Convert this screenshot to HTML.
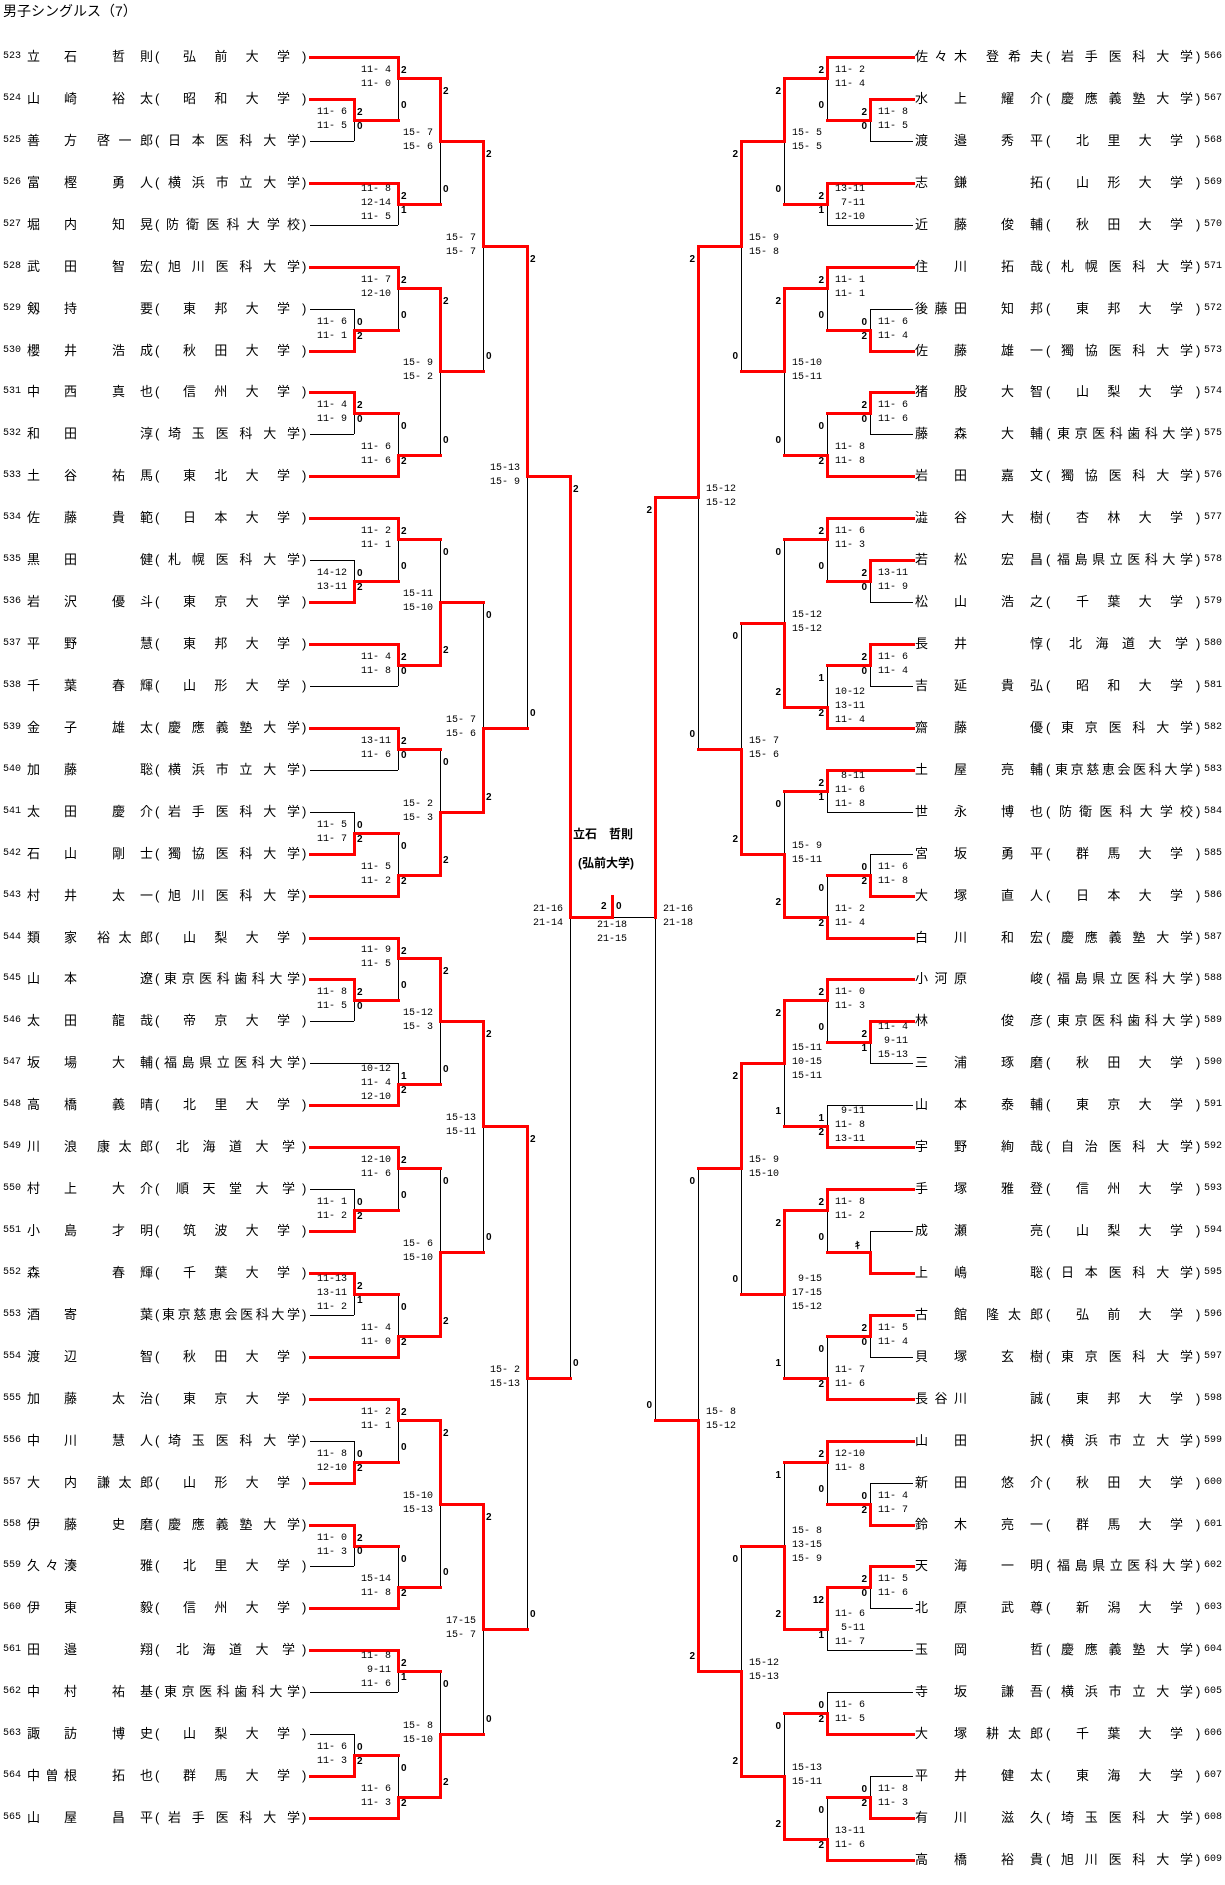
<!DOCTYPE html>
<html><head><meta charset="utf-8">
<style>
*{margin:0;padding:0;box-sizing:border-box}
html,body{width:1225px;height:1885px;background:#fff;overflow:hidden}
body{position:relative;font-family:"Liberation Sans","Noto Sans CJK JP",sans-serif;color:#000}
#t{position:absolute;left:3px;top:2px;font-size:14px;line-height:18px}
svg{position:absolute;left:0;top:0}
.nl,.nr{position:absolute;left:0;width:1225px;height:16px;top:calc(57px + var(--r)*41.93px - 8px);font-size:13px;line-height:16px}
.nl span,.nr span{position:absolute;top:0;white-space:nowrap;text-align:justify;text-align-last:justify}
.nl::before,.nr::before{content:"(";position:absolute;top:0}
.nl::after,.nr::after{content:")";position:absolute;top:0}
.nl::before{left:155px}.nl::after{left:302px}
.nr::before{left:1046px}.nr::after{left:1196px}
span.n{font:10px/16px "Liberation Mono",monospace;text-align:left;text-align-last:left}
.nl .n{left:3px}.nr .n{left:1204px}
.nl .f{left:27px;width:50px}.nr .f{left:915px;width:52px}
.nl .f1{left:27px}.nr .f1{left:915px}
.nl .g1{left:140px}.nl .g2{left:112px;width:41px}.nl .g3{left:97px;width:56px}
.nr .g1{left:1030px}.nr .g2{left:1001px;width:42px}.nr .g3{left:986px;width:57px}
.nl .u4{left:183px;width:107px}.nl .u5{left:176px;width:119px}.nl .u6{left:168px;width:132px}.nl .u7{left:166px;width:134px}.nl .u8{left:164px;width:136px}.nl .u9{left:162px;width:138px}
.nr .u4{left:1076px;width:107px}.nr .u5{left:1069px;width:119px}.nr .u6{left:1061px;width:132px}.nr .u7{left:1059px;width:134px}.nr .u8{left:1057px;width:136px}.nr .u9{left:1055px;width:138px}
p{position:absolute;font:10px/14px "Liberation Mono",monospace;white-space:pre;top:calc(57px + var(--r)*41.93px - 14px)}
p.t{top:calc(57px + var(--r)*41.93px - 21px)}
p.sl{right:calc(1225px - var(--x)*1px + 7px);text-align:right}
p.sr{left:calc(var(--x)*1px + 8px);text-align:left}
b{position:absolute;font:bold 10px/14px "Liberation Sans",sans-serif;top:calc(57px + var(--r)*41.93px + 7px)}
b.u{top:calc(57px + var(--r)*41.93px - 21px)}
b.cl{left:calc(var(--x)*1px + 3px)}
b.cr{right:calc(1225px - var(--x)*1px + 3px)}
.w{position:absolute;font-weight:bold;font-size:12px;line-height:16px}
</style></head><body>
<div id="t">男子シングルス（7）</div>
<svg id="sv" width="1225" height="1885"></svg>

<div class="nl" style="--r:0"><span class="n">523</span><span class="f">立石</span><span class="g2">哲則</span><span class="u4">弘前大学</span></div>
<div class="nl" style="--r:1"><span class="n">524</span><span class="f">山崎</span><span class="g2">裕太</span><span class="u4">昭和大学</span></div>
<div class="nl" style="--r:2"><span class="n">525</span><span class="f">善方</span><span class="g3">啓一郎</span><span class="u6">日本医科大学</span></div>
<div class="nl" style="--r:3"><span class="n">526</span><span class="f">富樫</span><span class="g2">勇人</span><span class="u6">横浜市立大学</span></div>
<div class="nl" style="--r:4"><span class="n">527</span><span class="f">堀内</span><span class="g2">知晃</span><span class="u7">防衛医科大学校</span></div>
<div class="nl" style="--r:5"><span class="n">528</span><span class="f">武田</span><span class="g2">智宏</span><span class="u6">旭川医科大学</span></div>
<div class="nl" style="--r:6"><span class="n">529</span><span class="f">剱持</span><span class="g1">要</span><span class="u4">東邦大学</span></div>
<div class="nl" style="--r:7"><span class="n">530</span><span class="f">櫻井</span><span class="g2">浩成</span><span class="u4">秋田大学</span></div>
<div class="nl" style="--r:8"><span class="n">531</span><span class="f">中西</span><span class="g2">真也</span><span class="u4">信州大学</span></div>
<div class="nl" style="--r:9"><span class="n">532</span><span class="f">和田</span><span class="g1">淳</span><span class="u6">埼玉医科大学</span></div>
<div class="nl" style="--r:10"><span class="n">533</span><span class="f">土谷</span><span class="g2">祐馬</span><span class="u4">東北大学</span></div>
<div class="nl" style="--r:11"><span class="n">534</span><span class="f">佐藤</span><span class="g2">貴範</span><span class="u4">日本大学</span></div>
<div class="nl" style="--r:12"><span class="n">535</span><span class="f">黒田</span><span class="g1">健</span><span class="u6">札幌医科大学</span></div>
<div class="nl" style="--r:13"><span class="n">536</span><span class="f">岩沢</span><span class="g2">優斗</span><span class="u4">東京大学</span></div>
<div class="nl" style="--r:14"><span class="n">537</span><span class="f">平野</span><span class="g1">慧</span><span class="u4">東邦大学</span></div>
<div class="nl" style="--r:15"><span class="n">538</span><span class="f">千葉</span><span class="g2">春輝</span><span class="u4">山形大学</span></div>
<div class="nl" style="--r:16"><span class="n">539</span><span class="f">金子</span><span class="g2">雄太</span><span class="u6">慶應義塾大学</span></div>
<div class="nl" style="--r:17"><span class="n">540</span><span class="f">加藤</span><span class="g1">聡</span><span class="u6">横浜市立大学</span></div>
<div class="nl" style="--r:18"><span class="n">541</span><span class="f">太田</span><span class="g2">慶介</span><span class="u6">岩手医科大学</span></div>
<div class="nl" style="--r:19"><span class="n">542</span><span class="f">石山</span><span class="g2">剛士</span><span class="u6">獨協医科大学</span></div>
<div class="nl" style="--r:20"><span class="n">543</span><span class="f">村井</span><span class="g2">太一</span><span class="u6">旭川医科大学</span></div>
<div class="nl" style="--r:21"><span class="n">544</span><span class="f">類家</span><span class="g3">裕太郎</span><span class="u4">山梨大学</span></div>
<div class="nl" style="--r:22"><span class="n">545</span><span class="f">山本</span><span class="g1">遼</span><span class="u8">東京医科歯科大学</span></div>
<div class="nl" style="--r:23"><span class="n">546</span><span class="f">太田</span><span class="g2">龍哉</span><span class="u4">帝京大学</span></div>
<div class="nl" style="--r:24"><span class="n">547</span><span class="f">坂場</span><span class="g2">大輔</span><span class="u8">福島県立医科大学</span></div>
<div class="nl" style="--r:25"><span class="n">548</span><span class="f">高橋</span><span class="g2">義晴</span><span class="u4">北里大学</span></div>
<div class="nl" style="--r:26"><span class="n">549</span><span class="f">川浪</span><span class="g3">康太郎</span><span class="u5">北海道大学</span></div>
<div class="nl" style="--r:27"><span class="n">550</span><span class="f">村上</span><span class="g2">大介</span><span class="u5">順天堂大学</span></div>
<div class="nl" style="--r:28"><span class="n">551</span><span class="f">小島</span><span class="g2">才明</span><span class="u4">筑波大学</span></div>
<div class="nl" style="--r:29"><span class="n">552</span><span class="f1">森</span><span class="g2">春輝</span><span class="u4">千葉大学</span></div>
<div class="nl" style="--r:30"><span class="n">553</span><span class="f">酒寄</span><span class="g1">葉</span><span class="u9">東京慈恵会医科大学</span></div>
<div class="nl" style="--r:31"><span class="n">554</span><span class="f">渡辺</span><span class="g1">智</span><span class="u4">秋田大学</span></div>
<div class="nl" style="--r:32"><span class="n">555</span><span class="f">加藤</span><span class="g2">太治</span><span class="u4">東京大学</span></div>
<div class="nl" style="--r:33"><span class="n">556</span><span class="f">中川</span><span class="g2">慧人</span><span class="u6">埼玉医科大学</span></div>
<div class="nl" style="--r:34"><span class="n">557</span><span class="f">大内</span><span class="g3">謙太郎</span><span class="u4">山形大学</span></div>
<div class="nl" style="--r:35"><span class="n">558</span><span class="f">伊藤</span><span class="g2">史磨</span><span class="u6">慶應義塾大学</span></div>
<div class="nl" style="--r:36"><span class="n">559</span><span class="f">久々湊</span><span class="g1">雅</span><span class="u4">北里大学</span></div>
<div class="nl" style="--r:37"><span class="n">560</span><span class="f">伊東</span><span class="g1">毅</span><span class="u4">信州大学</span></div>
<div class="nl" style="--r:38"><span class="n">561</span><span class="f">田邉</span><span class="g1">翔</span><span class="u5">北海道大学</span></div>
<div class="nl" style="--r:39"><span class="n">562</span><span class="f">中村</span><span class="g2">祐基</span><span class="u8">東京医科歯科大学</span></div>
<div class="nl" style="--r:40"><span class="n">563</span><span class="f">諏訪</span><span class="g2">博史</span><span class="u4">山梨大学</span></div>
<div class="nl" style="--r:41"><span class="n">564</span><span class="f">中曽根</span><span class="g2">拓也</span><span class="u4">群馬大学</span></div>
<div class="nl" style="--r:42"><span class="n">565</span><span class="f">山屋</span><span class="g2">昌平</span><span class="u6">岩手医科大学</span></div>

<div class="nr" style="--r:0"><span class="f">佐々木</span><span class="g3">登希夫</span><span class="u6">岩手医科大学</span><span class="n">566</span></div>
<div class="nr" style="--r:1"><span class="f">水上</span><span class="g2">耀介</span><span class="u6">慶應義塾大学</span><span class="n">567</span></div>
<div class="nr" style="--r:2"><span class="f">渡邉</span><span class="g2">秀平</span><span class="u4">北里大学</span><span class="n">568</span></div>
<div class="nr" style="--r:3"><span class="f">志鎌</span><span class="g1">拓</span><span class="u4">山形大学</span><span class="n">569</span></div>
<div class="nr" style="--r:4"><span class="f">近藤</span><span class="g2">俊輔</span><span class="u4">秋田大学</span><span class="n">570</span></div>
<div class="nr" style="--r:5"><span class="f">住川</span><span class="g2">拓哉</span><span class="u6">札幌医科大学</span><span class="n">571</span></div>
<div class="nr" style="--r:6"><span class="f">後藤田</span><span class="g2">知邦</span><span class="u4">東邦大学</span><span class="n">572</span></div>
<div class="nr" style="--r:7"><span class="f">佐藤</span><span class="g2">雄一</span><span class="u6">獨協医科大学</span><span class="n">573</span></div>
<div class="nr" style="--r:8"><span class="f">猪股</span><span class="g2">大智</span><span class="u4">山梨大学</span><span class="n">574</span></div>
<div class="nr" style="--r:9"><span class="f">藤森</span><span class="g2">大輔</span><span class="u8">東京医科歯科大学</span><span class="n">575</span></div>
<div class="nr" style="--r:10"><span class="f">岩田</span><span class="g2">嘉文</span><span class="u6">獨協医科大学</span><span class="n">576</span></div>
<div class="nr" style="--r:11"><span class="f">澁谷</span><span class="g2">大樹</span><span class="u4">杏林大学</span><span class="n">577</span></div>
<div class="nr" style="--r:12"><span class="f">若松</span><span class="g2">宏昌</span><span class="u8">福島県立医科大学</span><span class="n">578</span></div>
<div class="nr" style="--r:13"><span class="f">松山</span><span class="g2">浩之</span><span class="u4">千葉大学</span><span class="n">579</span></div>
<div class="nr" style="--r:14"><span class="f">長井</span><span class="g1">惇</span><span class="u5">北海道大学</span><span class="n">580</span></div>
<div class="nr" style="--r:15"><span class="f">吉延</span><span class="g2">貴弘</span><span class="u4">昭和大学</span><span class="n">581</span></div>
<div class="nr" style="--r:16"><span class="f">齋藤</span><span class="g1">優</span><span class="u6">東京医科大学</span><span class="n">582</span></div>
<div class="nr" style="--r:17"><span class="f">土屋</span><span class="g2">亮輔</span><span class="u9">東京慈恵会医科大学</span><span class="n">583</span></div>
<div class="nr" style="--r:18"><span class="f">世永</span><span class="g2">博也</span><span class="u7">防衛医科大学校</span><span class="n">584</span></div>
<div class="nr" style="--r:19"><span class="f">宮坂</span><span class="g2">勇平</span><span class="u4">群馬大学</span><span class="n">585</span></div>
<div class="nr" style="--r:20"><span class="f">大塚</span><span class="g2">直人</span><span class="u4">日本大学</span><span class="n">586</span></div>
<div class="nr" style="--r:21"><span class="f">白川</span><span class="g2">和宏</span><span class="u6">慶應義塾大学</span><span class="n">587</span></div>
<div class="nr" style="--r:22"><span class="f">小河原</span><span class="g1">峻</span><span class="u8">福島県立医科大学</span><span class="n">588</span></div>
<div class="nr" style="--r:23"><span class="f1">林</span><span class="g2">俊彦</span><span class="u8">東京医科歯科大学</span><span class="n">589</span></div>
<div class="nr" style="--r:24"><span class="f">三浦</span><span class="g2">琢磨</span><span class="u4">秋田大学</span><span class="n">590</span></div>
<div class="nr" style="--r:25"><span class="f">山本</span><span class="g2">泰輔</span><span class="u4">東京大学</span><span class="n">591</span></div>
<div class="nr" style="--r:26"><span class="f">宇野</span><span class="g2">絢哉</span><span class="u6">自治医科大学</span><span class="n">592</span></div>
<div class="nr" style="--r:27"><span class="f">手塚</span><span class="g2">雅登</span><span class="u4">信州大学</span><span class="n">593</span></div>
<div class="nr" style="--r:28"><span class="f">成瀬</span><span class="g1">亮</span><span class="u4">山梨大学</span><span class="n">594</span></div>
<div class="nr" style="--r:29"><span class="f">上嶋</span><span class="g1">聡</span><span class="u6">日本医科大学</span><span class="n">595</span></div>
<div class="nr" style="--r:30"><span class="f">古館</span><span class="g3">隆太郎</span><span class="u4">弘前大学</span><span class="n">596</span></div>
<div class="nr" style="--r:31"><span class="f">貝塚</span><span class="g2">玄樹</span><span class="u6">東京医科大学</span><span class="n">597</span></div>
<div class="nr" style="--r:32"><span class="f">長谷川</span><span class="g1">誠</span><span class="u4">東邦大学</span><span class="n">598</span></div>
<div class="nr" style="--r:33"><span class="f">山田</span><span class="g1">択</span><span class="u6">横浜市立大学</span><span class="n">599</span></div>
<div class="nr" style="--r:34"><span class="f">新田</span><span class="g2">悠介</span><span class="u4">秋田大学</span><span class="n">600</span></div>
<div class="nr" style="--r:35"><span class="f">鈴木</span><span class="g2">亮一</span><span class="u4">群馬大学</span><span class="n">601</span></div>
<div class="nr" style="--r:36"><span class="f">天海</span><span class="g2">一明</span><span class="u8">福島県立医科大学</span><span class="n">602</span></div>
<div class="nr" style="--r:37"><span class="f">北原</span><span class="g2">武尊</span><span class="u4">新潟大学</span><span class="n">603</span></div>
<div class="nr" style="--r:38"><span class="f">玉岡</span><span class="g1">哲</span><span class="u6">慶應義塾大学</span><span class="n">604</span></div>
<div class="nr" style="--r:39"><span class="f">寺坂</span><span class="g2">謙吾</span><span class="u6">横浜市立大学</span><span class="n">605</span></div>
<div class="nr" style="--r:40"><span class="f">大塚</span><span class="g3">耕太郎</span><span class="u4">千葉大学</span><span class="n">606</span></div>
<div class="nr" style="--r:41"><span class="f">平井</span><span class="g2">健太</span><span class="u4">東海大学</span><span class="n">607</span></div>
<div class="nr" style="--r:42"><span class="f">有川</span><span class="g2">滋久</span><span class="u6">埼玉医科大学</span><span class="n">608</span></div>
<div class="nr" style="--r:43"><span class="f">高橋</span><span class="g2">裕貴</span><span class="u6">旭川医科大学</span><span class="n">609</span></div>

<!-- LEFT SCORES -->
<p class="sl" style="--x:354;--r:1.5">11- 6
11- 5</p><b class="cl" style="--x:354;--r:1">2</b><b class="cl u" style="--x:354;--r:2">0</b>
<p class="sl" style="--x:398;--r:0.5">11- 4
11- 0</p><b class="cl" style="--x:398;--r:0">2</b><b class="cl u" style="--x:398;--r:1.5">0</b>
<p class="sl t" style="--x:398;--r:3.5">11- 8
12-14
11- 5</p><b class="cl" style="--x:398;--r:3">2</b><b class="cl u" style="--x:398;--r:4">1</b>
<p class="sl" style="--x:440;--r:2">15- 7
15- 6</p><b class="cl" style="--x:440;--r:0.5">2</b><b class="cl u" style="--x:440;--r:3.5">0</b>
<p class="sl" style="--x:354;--r:6.5">11- 6
11- 1</p><b class="cl" style="--x:354;--r:6">0</b><b class="cl u" style="--x:354;--r:7">2</b>
<p class="sl" style="--x:398;--r:5.5">11- 7
12-10</p><b class="cl" style="--x:398;--r:5">2</b><b class="cl u" style="--x:398;--r:6.5">0</b>
<p class="sl" style="--x:354;--r:8.5">11- 4
11- 9</p><b class="cl" style="--x:354;--r:8">2</b><b class="cl u" style="--x:354;--r:9">0</b>
<p class="sl" style="--x:398;--r:9.5">11- 6
11- 6</p><b class="cl" style="--x:398;--r:8.5">0</b><b class="cl u" style="--x:398;--r:10">2</b>
<p class="sl" style="--x:440;--r:7.5">15- 9
15- 2</p><b class="cl" style="--x:440;--r:5.5">2</b><b class="cl u" style="--x:440;--r:9.5">0</b>
<p class="sl" style="--x:483;--r:4.5">15- 7
15- 7</p><b class="cl" style="--x:483;--r:2">2</b><b class="cl u" style="--x:483;--r:7.5">0</b>
<p class="sl" style="--x:354;--r:12.5">14-12
13-11</p><b class="cl" style="--x:354;--r:12">0</b><b class="cl u" style="--x:354;--r:13">2</b>
<p class="sl" style="--x:398;--r:11.5">11- 2
11- 1</p><b class="cl" style="--x:398;--r:11">2</b><b class="cl u" style="--x:398;--r:12.5">0</b>
<p class="sl" style="--x:398;--r:14.5">11- 4
11- 8</p><b class="cl" style="--x:398;--r:14">2</b><b class="cl u" style="--x:398;--r:15">0</b>
<p class="sl" style="--x:440;--r:13">15-11
15-10</p><b class="cl" style="--x:440;--r:11.5">0</b><b class="cl u" style="--x:440;--r:14.5">2</b>
<p class="sl" style="--x:398;--r:16.5">13-11
11- 6</p><b class="cl" style="--x:398;--r:16">2</b><b class="cl u" style="--x:398;--r:17">0</b>
<p class="sl" style="--x:354;--r:18.5">11- 5
11- 7</p><b class="cl" style="--x:354;--r:18">0</b><b class="cl u" style="--x:354;--r:19">2</b>
<p class="sl" style="--x:398;--r:19.5">11- 5
11- 2</p><b class="cl" style="--x:398;--r:18.5">0</b><b class="cl u" style="--x:398;--r:20">2</b>
<p class="sl" style="--x:440;--r:18">15- 2
15- 3</p><b class="cl" style="--x:440;--r:16.5">0</b><b class="cl u" style="--x:440;--r:19.5">2</b>
<p class="sl" style="--x:483;--r:16">15- 7
15- 6</p><b class="cl" style="--x:483;--r:13">0</b><b class="cl u" style="--x:483;--r:18">2</b>
<p class="sl" style="--x:527;--r:10">15-13
15- 9</p><b class="cl" style="--x:527;--r:4.5">2</b><b class="cl u" style="--x:527;--r:16">0</b>
<p class="sl" style="--x:354;--r:22.5">11- 8
11- 5</p><b class="cl" style="--x:354;--r:22">2</b><b class="cl u" style="--x:354;--r:23">0</b>
<p class="sl" style="--x:398;--r:21.5">11- 9
11- 5</p><b class="cl" style="--x:398;--r:21">2</b><b class="cl u" style="--x:398;--r:22.5">0</b>
<p class="sl t" style="--x:398;--r:24.5">10-12
11- 4
12-10</p><b class="cl" style="--x:398;--r:24">1</b><b class="cl u" style="--x:398;--r:25">2</b>
<p class="sl" style="--x:440;--r:23">15-12
15- 3</p><b class="cl" style="--x:440;--r:21.5">2</b><b class="cl u" style="--x:440;--r:24.5">0</b>
<p class="sl" style="--x:354;--r:27.5">11- 1
11- 2</p><b class="cl" style="--x:354;--r:27">0</b><b class="cl u" style="--x:354;--r:28">2</b>
<p class="sl" style="--x:398;--r:26.5">12-10
11- 6</p><b class="cl" style="--x:398;--r:26">2</b><b class="cl u" style="--x:398;--r:27.5">0</b>
<p class="sl t" style="--x:354;--r:29.5">11-13
13-11
11- 2</p><b class="cl" style="--x:354;--r:29">2</b><b class="cl u" style="--x:354;--r:30">1</b>
<p class="sl" style="--x:398;--r:30.5">11- 4
11- 0</p><b class="cl" style="--x:398;--r:29.5">0</b><b class="cl u" style="--x:398;--r:31">2</b>
<p class="sl" style="--x:440;--r:28.5">15- 6
15-10</p><b class="cl" style="--x:440;--r:26.5">0</b><b class="cl u" style="--x:440;--r:30.5">2</b>
<p class="sl" style="--x:483;--r:25.5">15-13
15-11</p><b class="cl" style="--x:483;--r:23">2</b><b class="cl u" style="--x:483;--r:28.5">0</b>
<p class="sl" style="--x:354;--r:33.5">11- 8
12-10</p><b class="cl" style="--x:354;--r:33">0</b><b class="cl u" style="--x:354;--r:34">2</b>
<p class="sl" style="--x:398;--r:32.5">11- 2
11- 1</p><b class="cl" style="--x:398;--r:32">2</b><b class="cl u" style="--x:398;--r:33.5">0</b>
<p class="sl" style="--x:354;--r:35.5">11- 0
11- 3</p><b class="cl" style="--x:354;--r:35">2</b><b class="cl u" style="--x:354;--r:36">0</b>
<p class="sl" style="--x:398;--r:36.5">15-14
11- 8</p><b class="cl" style="--x:398;--r:35.5">0</b><b class="cl u" style="--x:398;--r:37">2</b>
<p class="sl" style="--x:440;--r:34.5">15-10
15-13</p><b class="cl" style="--x:440;--r:32.5">2</b><b class="cl u" style="--x:440;--r:36.5">0</b>
<p class="sl t" style="--x:398;--r:38.5">11- 8
 9-11
11- 6</p><b class="cl" style="--x:398;--r:38">2</b><b class="cl u" style="--x:398;--r:39">1</b>
<p class="sl" style="--x:354;--r:40.5">11- 6
11- 3</p><b class="cl" style="--x:354;--r:40">0</b><b class="cl u" style="--x:354;--r:41">2</b>
<p class="sl" style="--x:398;--r:41.5">11- 6
11- 3</p><b class="cl" style="--x:398;--r:40.5">0</b><b class="cl u" style="--x:398;--r:42">2</b>
<p class="sl" style="--x:440;--r:40">15- 8
15-10</p><b class="cl" style="--x:440;--r:38.5">0</b><b class="cl u" style="--x:440;--r:41.5">2</b>
<p class="sl" style="--x:483;--r:37.5">17-15
15- 7</p><b class="cl" style="--x:483;--r:34.5">2</b><b class="cl u" style="--x:483;--r:40">0</b>
<p class="sl" style="--x:527;--r:31.5">15- 2
15-13</p><b class="cl" style="--x:527;--r:25.5">2</b><b class="cl u" style="--x:527;--r:37.5">0</b>
<p class="sl" style="--x:570;--r:20.5">21-16
21-14</p><b class="cl" style="--x:570;--r:10">2</b><b class="cl u" style="--x:570;--r:31.5">0</b>

<!-- RIGHT SCORES -->
<p class="sr" style="--x:870;--r:1.5">11- 8
11- 5</p><b class="cr" style="--x:870;--r:1">2</b><b class="cr u" style="--x:870;--r:2">0</b>
<p class="sr" style="--x:827;--r:0.5">11- 2
11- 4</p><b class="cr" style="--x:827;--r:0">2</b><b class="cr u" style="--x:827;--r:1.5">0</b>
<p class="sr t" style="--x:827;--r:3.5">13-11
 7-11
12-10</p><b class="cr" style="--x:827;--r:3">2</b><b class="cr u" style="--x:827;--r:4">1</b>
<p class="sr" style="--x:784;--r:2">15- 5
15- 5</p><b class="cr" style="--x:784;--r:0.5">2</b><b class="cr u" style="--x:784;--r:3.5">0</b>
<p class="sr" style="--x:870;--r:6.5">11- 6
11- 4</p><b class="cr" style="--x:870;--r:6">0</b><b class="cr u" style="--x:870;--r:7">2</b>
<p class="sr" style="--x:827;--r:5.5">11- 1
11- 1</p><b class="cr" style="--x:827;--r:5">2</b><b class="cr u" style="--x:827;--r:6.5">0</b>
<p class="sr" style="--x:870;--r:8.5">11- 6
11- 6</p><b class="cr" style="--x:870;--r:8">2</b><b class="cr u" style="--x:870;--r:9">0</b>
<p class="sr" style="--x:827;--r:9.5">11- 8
11- 8</p><b class="cr" style="--x:827;--r:8.5">0</b><b class="cr u" style="--x:827;--r:10">2</b>
<p class="sr" style="--x:784;--r:7.5">15-10
15-11</p><b class="cr" style="--x:784;--r:5.5">2</b><b class="cr u" style="--x:784;--r:9.5">0</b>
<p class="sr" style="--x:741;--r:4.5">15- 9
15- 8</p><b class="cr" style="--x:741;--r:2">2</b><b class="cr u" style="--x:741;--r:7.5">0</b>
<p class="sr" style="--x:870;--r:12.5">13-11
11- 9</p><b class="cr" style="--x:870;--r:12">2</b><b class="cr u" style="--x:870;--r:13">0</b>
<p class="sr" style="--x:827;--r:11.5">11- 6
11- 3</p><b class="cr" style="--x:827;--r:11">2</b><b class="cr u" style="--x:827;--r:12.5">0</b>
<p class="sr" style="--x:870;--r:14.5">11- 6
11- 4</p><b class="cr" style="--x:870;--r:14">2</b><b class="cr u" style="--x:870;--r:15">0</b>
<p class="sr t" style="--x:827;--r:15.5">10-12
13-11
11- 4</p><b class="cr" style="--x:827;--r:14.5">1</b><b class="cr u" style="--x:827;--r:16">2</b>
<p class="sr" style="--x:784;--r:13.5">15-12
15-12</p><b class="cr" style="--x:784;--r:11.5">0</b><b class="cr u" style="--x:784;--r:15.5">2</b>
<p class="sr t" style="--x:827;--r:17.5"> 8-11
11- 6
11- 8</p><b class="cr" style="--x:827;--r:17">2</b><b class="cr u" style="--x:827;--r:18">1</b>
<p class="sr" style="--x:870;--r:19.5">11- 6
11- 8</p><b class="cr" style="--x:870;--r:19">0</b><b class="cr u" style="--x:870;--r:20">2</b>
<p class="sr" style="--x:827;--r:20.5">11- 2
11- 4</p><b class="cr" style="--x:827;--r:19.5">0</b><b class="cr u" style="--x:827;--r:21">2</b>
<p class="sr" style="--x:784;--r:19">15- 9
15-11</p><b class="cr" style="--x:784;--r:17.5">0</b><b class="cr u" style="--x:784;--r:20.5">2</b>
<p class="sr" style="--x:741;--r:16.5">15- 7
15- 6</p><b class="cr" style="--x:741;--r:13.5">0</b><b class="cr u" style="--x:741;--r:19">2</b>
<p class="sr" style="--x:698;--r:10.5">15-12
15-12</p><b class="cr" style="--x:698;--r:4.5">2</b><b class="cr u" style="--x:698;--r:16.5">0</b>
<p class="sr t" style="--x:870;--r:23.5">11- 4
 9-11
15-13</p><b class="cr" style="--x:870;--r:23">2</b><b class="cr u" style="--x:870;--r:24">1</b>
<p class="sr" style="--x:827;--r:22.5">11- 0
11- 3</p><b class="cr" style="--x:827;--r:22">2</b><b class="cr u" style="--x:827;--r:23.5">0</b>
<p class="sr t" style="--x:827;--r:25.5"> 9-11
11- 8
13-11</p><b class="cr" style="--x:827;--r:25">1</b><b class="cr u" style="--x:827;--r:26">2</b>
<p class="sr t" style="--x:784;--r:24">15-11
10-15
15-11</p><b class="cr" style="--x:784;--r:22.5">2</b><b class="cr u" style="--x:784;--r:25.5">1</b>
<b style="left:855px;top:1240px">ｷ</b>
<p class="sr" style="--x:827;--r:27.5">11- 8
11- 2</p><b class="cr" style="--x:827;--r:27">2</b><b class="cr u" style="--x:827;--r:28.5">0</b>
<p class="sr" style="--x:870;--r:30.5">11- 5
11- 4</p><b class="cr" style="--x:870;--r:30">2</b><b class="cr u" style="--x:870;--r:31">0</b>
<p class="sr" style="--x:827;--r:31.5">11- 7
11- 6</p><b class="cr" style="--x:827;--r:30.5">0</b><b class="cr u" style="--x:827;--r:32">2</b>
<p class="sr t" style="--x:784;--r:29.5"> 9-15
17-15
15-12</p><b class="cr" style="--x:784;--r:27.5">2</b><b class="cr u" style="--x:784;--r:31.5">1</b>
<p class="sr" style="--x:741;--r:26.5">15- 9
15-10</p><b class="cr" style="--x:741;--r:24">2</b><b class="cr u" style="--x:741;--r:29.5">0</b>
<p class="sr" style="--x:870;--r:34.5">11- 4
11- 7</p><b class="cr" style="--x:870;--r:34">0</b><b class="cr u" style="--x:870;--r:35">2</b>
<p class="sr" style="--x:827;--r:33.5">12-10
11- 8</p><b class="cr" style="--x:827;--r:33">2</b><b class="cr u" style="--x:827;--r:34.5">0</b>
<p class="sr" style="--x:870;--r:36.5">11- 5
11- 6</p><b class="cr" style="--x:870;--r:36">2</b><b class="cr u" style="--x:870;--r:37">0</b>
<p class="sr t" style="--x:827;--r:37.5">11- 6
 5-11
11- 7</p><b class="cr" style="--x:827;--r:36.5">12</b><b class="cr u" style="--x:827;--r:38">1</b>
<p class="sr t" style="--x:784;--r:35.5">15- 8
13-15
15- 9</p><b class="cr" style="--x:784;--r:33.5">1</b><b class="cr u" style="--x:784;--r:37.5">2</b>
<p class="sr" style="--x:827;--r:39.5">11- 6
11- 5</p><b class="cr" style="--x:827;--r:39">0</b><b class="cr u" style="--x:827;--r:40">2</b>
<p class="sr" style="--x:870;--r:41.5">11- 8
11- 3</p><b class="cr" style="--x:870;--r:41">0</b><b class="cr u" style="--x:870;--r:42">2</b>
<p class="sr" style="--x:827;--r:42.5">13-11
11- 6</p><b class="cr" style="--x:827;--r:41.5">0</b><b class="cr u" style="--x:827;--r:43">2</b>
<p class="sr" style="--x:784;--r:41">15-13
15-11</p><b class="cr" style="--x:784;--r:39.5">0</b><b class="cr u" style="--x:784;--r:42.5">2</b>
<p class="sr" style="--x:741;--r:38.5">15-12
15-13</p><b class="cr" style="--x:741;--r:35.5">0</b><b class="cr u" style="--x:741;--r:41">2</b>
<p class="sr" style="--x:698;--r:32.5">15- 8
15-12</p><b class="cr" style="--x:698;--r:26.5">0</b><b class="cr u" style="--x:698;--r:38.5">2</b>
<p class="sr" style="--x:655;--r:20.5">21-16
21-18</p><b class="cr" style="--x:655;--r:10.5">2</b><b class="cr u" style="--x:655;--r:32.5">0</b>

<!-- FINAL -->
<b style="left:601px;top:900px">2</b><b style="left:616px;top:900px">0</b>
<p style="left:597px;top:919px">21-18
21-15</p>
<div class="w" style="left:573px;top:826px">立石　哲則</div>
<div class="w" style="left:578px;top:855px">(弘前大学)</div>

<script>
(function(){
function M(c,a,b,o,w){return {c:c,a:a,b:b,o:o,w:w};}
function Y(r){return 57+r*41.93;}
var X={L:[0,354,398,440,483,527,570],R:[0,870,827,784,741,698,655]},E={L:310,R:913};
var blk=[],red=[];
function draw(m,s){var xs=X[s],x=xs[m.c];
 var ins=[m.a,m.b].map(function(v,i){ if(typeof v==='number') return {y:Y(v),x0:E[s],r:m.w===i}; draw(v,s); return {y:Y(v.o),x0:xs[v.c],r:true};});
 ins.forEach(function(p){(p.r?red:blk).push([p.x0,p.y,x,p.y]);});
 blk.push([x,ins[0].y,x,ins[1].y]);
 red.push([x,ins[m.w].y,x,Y(m.o)]);
}
var Ma=M(1,1,2,1.5,0),Mb=M(2,0,Ma,0.5,0),Mc=M(2,3,4,3.5,0),Md=M(3,Mb,Mc,2,0),Me=M(1,6,7,6.5,1),Mf=M(2,5,Me,5.5,0),Mg=M(1,8,9,8.5,0),Mh=M(2,Mg,10,9.5,1),Mi=M(3,Mf,Mh,7.5,0),Mj=M(4,Md,Mi,4.5,0),Mk=M(1,12,13,12.5,1),Ml=M(2,11,Mk,11.5,0),Mm=M(2,14,15,14.5,0),Mn=M(3,Ml,Mm,13,1),Mo=M(2,16,17,16.5,0),Mp=M(1,18,19,18.5,1),Mq=M(2,Mp,20,19.5,1),Mr=M(3,Mo,Mq,18,1),Ms=M(4,Mn,Mr,16,1),Mt=M(5,Mj,Ms,10,0);
var Mu=M(1,22,23,22.5,0),Mv=M(2,21,Mu,21.5,0),Mw=M(2,24,25,24.5,1),Mx=M(3,Mv,Mw,23,0),My=M(1,27,28,27.5,1),Mz=M(2,26,My,26.5,0),N1=M(1,29,30,29.5,0),N2=M(2,N1,31,30.5,1),N3=M(3,Mz,N2,28.5,1),N4=M(4,Mx,N3,25.5,0),N5=M(1,33,34,33.5,1),N6=M(2,32,N5,32.5,0),N7=M(1,35,36,35.5,0),N8=M(2,N7,37,36.5,1),N9=M(3,N6,N8,34.5,0),N10=M(2,38,39,38.5,0),N11=M(1,40,41,40.5,1),N12=M(2,N11,42,41.5,1),N13=M(3,N10,N12,40,1),N14=M(4,N9,N13,37.5,0),N15=M(5,N4,N14,31.5,0),LF=M(6,Mt,N15,20.5,0);
var R1=M(1,1,2,1.5,0),R2=M(2,0,R1,0.5,0),R3=M(2,3,4,3.5,0),R4=M(3,R2,R3,2,0),R6=M(1,6,7,6.5,1),R5=M(2,5,R6,5.5,0),R7=M(1,8,9,8.5,0),R8=M(2,R7,10,9.5,1),R9=M(3,R5,R8,7.5,0),R10=M(4,R4,R9,4.5,0),R11=M(1,12,13,12.5,0),R12=M(2,11,R11,11.5,0),R13=M(1,14,15,14.5,0),R14=M(2,R13,16,15.5,1),R15=M(3,R12,R14,13.5,1),R16=M(2,17,18,17.5,0),R17=M(1,19,20,19.5,1),R18=M(2,R17,21,20.5,1),R19=M(3,R16,R18,19,1),R20=M(4,R15,R19,16.5,1),R21=M(5,R10,R20,10.5,0);
var R22=M(1,23,24,23.5,0),R23=M(2,22,R22,22.5,0),R24=M(2,25,26,25.5,1),R25=M(3,R23,R24,24,0),R26=M(1,28,29,28.5,1),R27=M(2,27,R26,27.5,0),R28=M(1,30,31,30.5,0),R29=M(2,R28,32,31.5,1),R30=M(3,R27,R29,29.5,0),R31=M(4,R25,R30,26.5,0),R32=M(1,34,35,34.5,1),R33=M(2,33,R32,33.5,0),R34=M(1,36,37,36.5,0),R35=M(2,R34,38,37.5,0),R36=M(3,R33,R35,35.5,1),R37=M(2,39,40,39.5,1),R38=M(1,41,42,41.5,1),R39=M(2,R38,43,42.5,1),R40=M(3,R37,R39,41,1),R41=M(4,R36,R40,38.5,1),R42=M(5,R31,R41,32.5,1),RF=M(6,R21,R42,20.5,0);
draw(LF,'L');draw(RF,'R');
var fy=Y(20.5);
red.push([570,fy,612,fy]);blk.push([655,fy,612,fy]);red.push([612,fy-21,612,fy]);
var s='';
blk.forEach(function(l){var x1=l[0],y1=l[1],x2=l[2],y2=l[3];
 if(y1===y2){var y=Math.round(y1)+0.5;s+='<line x1="'+x1+'" y1="'+y+'" x2="'+x2+'" y2="'+y+'"/>';}
 else{var x=x1+0.5;s+='<line x1="'+x+'" y1="'+Math.round(y1)+'" x2="'+x+'" y2="'+Math.round(y2)+'"/>';}
});
var r='';
red.forEach(function(l){r+='<line x1="'+(l[0]+0.5)+'" y1="'+(Math.round(l[1])+0.5)+'" x2="'+(l[2]+0.5)+'" y2="'+(Math.round(l[3])+0.5)+'"/>';});
document.getElementById('sv').innerHTML='<g stroke="#000" stroke-width="1">'+s+'</g><g stroke="#f00" stroke-width="3" stroke-linecap="square">'+r+'</g>';
})();
</script>
</body></html>
